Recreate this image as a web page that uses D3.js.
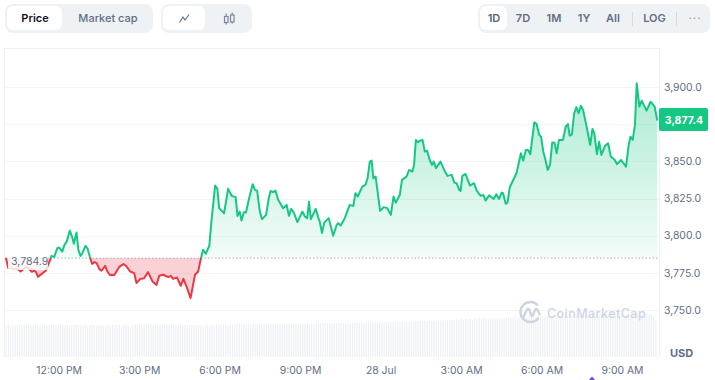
<!DOCTYPE html>
<html><head><meta charset="utf-8">
<script src="https://cdn.jsdelivr.net/npm/d3@7"></script>
<style>html,body{margin:0;padding:0;background:#fff}svg{display:block}text{font-family:Inter,"Noto Sans",sans-serif}</style>
</head><body><svg id="c" width="715" height="380"></svg>
<script>
// minutes since the start of the 24h window (10:00 AM)
const minutes=[2,7,18,29,35,45,51,60,64,69,74,82,91,101,104,110,117,121,128,133,138,145,151,154,160,164,169,173,180,185,190,195,200,205,211,216,224,229,235,244,248,256,265,272,280,289,294,302,311,320,330,339,345,354,365,371,376,385,393,399,406,415,425,432,438,443,449,457,462,470,475,479,490,499,507,516,520,525,529,534,539,546,554,559,564,570,575,584,590,594,599,605,611,622,630,635,640,646,654,665,671,676,680,684,695,701,704,709,714,724,734,742,745,751,760,771,779,784,789,799,806,811,816,820,824,829,839,847,855,863,869,874,883,888,898,904,911,915,919,924,928,934,939,944,950,955,959,964,974,984,990,999,1005,1010,1016,1019,1023,1030,1040,1049,1055,1064,1070,1075,1083,1093,1099,1105,1111,1114,1120,1124,1129,1144,1154,1159,1165,1170,1175,1184,1189,1195,1199,1204,1208,1214,1219,1224,1229,1234,1239,1248,1254,1259,1263,1268,1273,1278,1283,1288,1293,1300,1309,1314,1318,1324,1329,1334,1342,1349,1355,1364,1369,1378,1389,1395,1399,1404,1409,1413,1419,1424,1435,1444,1453,1459];
const prices=[3785.1,3778.4,3777.7,3777.4,3775.9,3778.4,3778.4,3775.7,3776.4,3775.7,3772.3,3774.3,3776.4,3783.7,3786.4,3785.6,3791.6,3792,3789.3,3793.8,3796,3803.4,3798.3,3794.5,3802.1,3790.5,3786.4,3788.2,3793.2,3791.1,3785.6,3780.9,3782.2,3781.5,3777.5,3776.4,3779.7,3775.9,3773.5,3773.5,3775.2,3779.2,3780.9,3779.2,3775.9,3774.8,3768.1,3770.8,3771.4,3775.5,3769.2,3766.9,3773,3773.7,3772.1,3773,3771,3771.8,3766.3,3771,3765.8,3758,3773.7,3775.9,3784.4,3790.5,3787.8,3793.2,3810.6,3833.7,3831.5,3818.5,3815.1,3831.5,3826.8,3825.9,3813.3,3816.2,3810.2,3815.8,3815.6,3825.2,3834.6,3830.8,3830.1,3816.2,3811.1,3814,3825.2,3830.1,3829.2,3830.3,3824.1,3818.5,3820.7,3813.3,3818,3815.6,3809.1,3816.2,3812.8,3811.8,3822.9,3811.1,3818,3811.8,3809.5,3801.7,3808.8,3811.8,3799.9,3807.3,3808.4,3806.8,3811.8,3820.7,3820,3828.6,3826.3,3833,3834.1,3838.6,3849.8,3850.5,3838.6,3839.7,3816.7,3819.2,3818.5,3814,3826.3,3822.2,3827.4,3837.5,3839.7,3844.2,3843.1,3847.6,3864.4,3862.8,3863.9,3864.4,3856.5,3857.2,3850.9,3847.6,3849.8,3845.4,3849.8,3843.1,3840.2,3840.9,3835.7,3835.3,3830.8,3830.1,3840.2,3841.5,3833.7,3835.3,3830.3,3826.8,3827.4,3823.6,3827.2,3824.7,3827.9,3824.7,3829,3828.6,3821.4,3822.2,3832.6,3842,3855.4,3850.5,3857.7,3857.7,3854.8,3876.3,3875.1,3867.7,3866.6,3856.5,3852.1,3844.2,3847.6,3862.6,3862.6,3855.4,3864.4,3864.4,3873.3,3875.1,3867.3,3868.2,3882.3,3886.4,3882.3,3887.4,3884.5,3874.5,3861,3871.8,3868.9,3854.8,3863.2,3854.3,3860.4,3862.2,3853.2,3850.9,3848.1,3850.9,3846.4,3861,3866.6,3864.4,3874.5,3902.5,3886.8,3890.8,3884.1,3890.1,3886.8,3877.4];
// volume (billions), evenly spaced bars across the window
const volumes=[
16.0,16.3,15.6,15.8,15.6,16.1,16.3,15.8,16.4,16.0,16.4,15.8,16.2,16.4,15.7,16.1,16.5,16.3,15.9,16.3,16.0,16.4,15.9,16.3,
16.4,16.1,15.9,16.3,15.7,16.1,16.0,16.3,15.8,16.2,15.8,16.2,15.7,16.1,16.2,15.8,15.7,16.0,16.2,15.9,15.7,16.1,15.8,16.2,
15.9,16.3,15.9,15.6,16.1,16.2,15.8,15.2,15.8,16.2,16.4,16.1,16.6,16.2,16.6,16.1,16.6,16.3,16.0,16.5,16.3,16.5,16.0,16.4,
16.2,16.6,16.0,16.4,16.2,16.5,16.1,16.3,15.9,16.2,15.8,16.1,15.7,16.1,15.7,15.4,15.8,16.1,15.6,16.1,15.9,16.4,16.1,16.5,
16.2,16.4,16.1,16.4,16.2,16.5,16.3,16.7,16.2,16.5,16.3,16.8,16.2,16.7,16.4,16.7,16.3,16.8,16.2,16.8,16.4,16.8,16.4,16.7,
16.5,16.8,16.5,16.8,16.5,16.9,16.4,16.8,16.6,17.0,16.5,16.9,16.6,17.1,16.6,16.9,16.7,17.0,16.6,17.0,16.8,17.1,16.7,17.0,
16.8,17.1,16.8,17.2,16.7,17.1,16.8,17.3,16.7,17.2,16.9,17.2,16.9,17.4,16.9,17.3,17.0,17.5,17.0,17.5,17.1,17.4,17.2,17.5,
17.3,17.6,17.2,17.8,17.3,17.8,17.4,17.9,17.4,18.0,17.6,17.9,17.7,18.1,17.8,18.1,17.9,18.2,17.9,18.4,17.9,18.4,18.1,18.4,
18.2,18.5,18.2,18.7,18.3,18.8,18.3,18.9,18.5,19.0,18.5,19.1,18.7,19.2,18.7,19.3,18.9,19.4,18.9,19.5,19.1,19.4,19.2,19.6,
19.3,19.6,19.4,19.7,19.4,19.9,19.5,20.0,19.5,20.1,19.7,20.2,19.7,20.3,19.8,20.3,20.0,20.3,20.0,20.5,20.0,20.5,20.1,20.6,
20.2,20.5,20.3,20.7,20.4,20.7,20.4,20.9,20.5,20.8,20.6,21.0,20.7,21.0,20.7,21.2,20.7,21.2,20.9,21.2,20.9,21.4,20.9,21.4,
21.0,21.5,21.0,21.5,21.2,21.5,21.2,21.7,21.2,21.7,21.3,21.8,21.3,21.8,21.4,21.7,21.4,21.9,21.4,21.7,21.2,21.4,19.8,18.0];
const yTickValues=[3750,3775,3800,3825,3850,3875,3900];
const yTickLabels=["3,750.0","3,775.0","3,800.0","3,825.0","3,850.0","","3,900.0"];
const xTickValues=[120,300,480,660,840,1020,1200,1380];
const xTickLabels=["12:00 PM","3:00 PM","6:00 PM","9:00 PM","28 Jul","3:00 AM","6:00 AM","9:00 AM"];
const basePrice=3784.9, lastPrice=3877.4;
const priceTabs=["Price","Market cap"];
const rangeTabs=["1D","7D","1M","1Y","All"];

const GREEN="#16c784",RED="#ea3943",GREY="#616e85",PANEL="#eff2f5";
const svg=d3.select("#c");
const x=d3.scaleLinear([0,1459],[5,657.3]);
const y=d3.scaleLinear([3750,3900],[310,87]);
const yVol=d3.scaleLinear([0,25],[357,307]);
const xVol=d3.scaleBand(d3.range(volumes.length),[5,657]);
const data=minutes.map((m,i)=>({m,p:prices[i]}));

// ---- toolbar
function panel(a,w){svg.append("rect").attr("x",a).attr("y",4).attr("width",w).attr("height",29).attr("rx",8).attr("fill",PANEL)}
function active(a,w){svg.append("rect").attr("x",a).attr("y",6).attr("width",w).attr("height",24).attr("rx",6).attr("fill","#fff")}
function label(t,cx,fill,w=600,size=11){svg.append("text").attr("x",cx).attr("y",22).attr("text-anchor","middle").attr("font-size",size).attr("font-weight",w).attr("fill",fill).text(t)}
panel(5,148);active(7,55);
label(priceTabs[0],35,"#0d1421");label(priceTabs[1],108,GREY,500);
panel(161,91);active(163,42);
svg.append("path").attr("d","M179.5 22.5L183 17L185 20L189 14.5").attr("fill","none").attr("stroke",GREY).attr("stroke-width",1.1);
svg.append("g").attr("fill","none").attr("stroke","#7d879a").attr("stroke-width",1.2).call(g=>{
  g.append("rect").attr("x",224.5).attr("y",16.5).attr("width",3.5).attr("height",6);
  g.append("path").attr("d","M226.2 13.5V16.5M226.2 22.5V24.5");
  g.append("rect").attr("x",230.5).attr("y",15).attr("width",3.5).attr("height",7);
  g.append("path").attr("d","M232.2 12.5V15M232.2 22V23.5");
});
panel(478,232);active(480,27);
[494,523,554,584,613].forEach((cx,i)=>label(rangeTabs[i],cx,i?GREY:"#58667e"));
label("LOG",654.5,GREY);
[632.5,676.5].forEach(a=>svg.append("line").attr("x1",a).attr("x2",a).attr("y1",12).attr("y2",26).attr("stroke","#d5dbe5"));
svg.append("text").attr("x",695).attr("y",22).attr("text-anchor","middle").attr("font-size",11).attr("letter-spacing",1.2).attr("fill","#8a94a6").text("···");

// ---- frame and grid
svg.append("path").attr("d","M4.5 357V48.5H659.5V357").attr("fill","none").attr("stroke",PANEL);
svg.append("g").selectAll("line").data(yTickValues).join("line")
  .attr("x1",5).attr("x2",659).attr("y1",d=>Math.round(y(d))+.5).attr("y2",d=>Math.round(y(d))+.5)
  .attr("stroke","#f3f4f6");

// ---- volume
svg.append("g").selectAll("rect").data(volumes).join("rect")
  .attr("x",(d,i)=>xVol(i)+.5).attr("width",1.2)
  .attr("y",d=>yVol(d)).attr("height",d=>yVol(0)-yVol(d)).attr("fill","#edf0f4");

// ---- watermark
const wm=svg.append("g").attr("fill","none").attr("stroke","#ccd5e4").attr("stroke-width",2.4);
wm.append("path").attr("d","M538 305.5A10 10 0 1 0 538.5 318");
wm.append("path").attr("d","M523 318L527 309.5Q528.5 308 529.5 310L531 315Q532 317 533 315L535 310Q536.5 308 537.5 310L540 315");
svg.append("text").attr("x",547).attr("y",318).attr("font-family","DejaVu Sans").attr("font-size",12.5).attr("letter-spacing",.45)
  .attr("fill","#ccd5e4").attr("font-weight",500).text("CoinMarketCap");

// ---- price area and line split on the base price
const defs=svg.append("defs");
const yb=y(basePrice);
defs.append("clipPath").attr("id","up").append("rect").attr("x",0).attr("y",0).attr("width",715).attr("height",yb);
defs.append("clipPath").attr("id","dn").append("rect").attr("x",0).attr("y",yb).attr("width",715).attr("height",380-yb);
const gu=defs.append("linearGradient").attr("id","gu").attr("gradientUnits","userSpaceOnUse").attr("x1",0).attr("x2",0).attr("y1",y(3902)).attr("y2",yb);
gu.append("stop").attr("offset",0).attr("stop-color",GREEN).attr("stop-opacity",.36);
gu.append("stop").attr("offset",1).attr("stop-color",GREEN).attr("stop-opacity",.05);
const area=d3.area().x(d=>x(d.m)).y0(yb).y1(d=>y(d.p));
const line=d3.line().x(d=>x(d.m)).y(d=>y(d.p));
svg.append("path").datum(data).attr("d",area).attr("fill","url(#gu)").attr("clip-path","url(#up)");
svg.append("path").datum(data).attr("d",area).attr("fill",RED).attr("fill-opacity",.23).attr("clip-path","url(#dn)");
svg.append("line").attr("x1",5).attr("x2",658).attr("y1",yb).attr("y2",yb).attr("stroke","#a6b0c3").attr("stroke-dasharray","1.5 2").attr("stroke-width",1);
svg.append("path").datum(data).attr("d",line).attr("fill","none").attr("stroke",GREEN).attr("stroke-width",2).attr("stroke-linejoin","round").attr("clip-path","url(#up)");
svg.append("path").datum(data).attr("d",line).attr("fill","none").attr("stroke",RED).attr("stroke-width",2).attr("stroke-linejoin","round").attr("clip-path","url(#dn)");

// ---- base price label
svg.append("rect").attr("x",8).attr("y",yb-6).attr("width",40).attr("height",18).attr("rx",2).attr("fill","#fff").attr("fill-opacity",.82);
svg.append("text").attr("x",11).attr("y",yb+7).attr("font-size",10.5).attr("fill",GREY).text(d3.format(",.1f")(basePrice));

// ---- axes
const yAxis=svg.append("g").attr("transform","translate(659,0)")
  .call(d3.axisRight(y).tickValues(yTickValues).tickSize(0).tickPadding(5).tickFormat((d,i)=>yTickLabels[i]));
const xAxis=svg.append("g").attr("transform","translate(0,357)")
  .call(d3.axisBottom(x).tickValues(xTickValues).tickSize(0).tickPadding(10).tickFormat((d,i)=>xTickLabels[i]));
[yAxis,xAxis].forEach(a=>{a.select(".domain").remove();a.selectAll("text").attr("font-family","Inter").attr("font-size",10.4).attr("fill",GREY)});

// ---- last price badge, unit and event marker
svg.append("rect").attr("x",659).attr("y",108).attr("width",49).attr("height",23).attr("rx",2).attr("fill",GREEN);
svg.append("text").attr("x",684).attr("y",123.5).attr("text-anchor","middle").attr("font-size",10.5).attr("font-weight",700).attr("fill","#fff").text(d3.format(",.1f")(lastPrice));
svg.append("text").attr("x",681.5).attr("y",357).attr("text-anchor","middle").attr("font-size",11).attr("font-weight",700).attr("fill",GREY).text("USD");
svg.append("path").attr("d","M592 376.5L595 380H589Z").attr("fill","#7b3fe4");
</script></body></html>
